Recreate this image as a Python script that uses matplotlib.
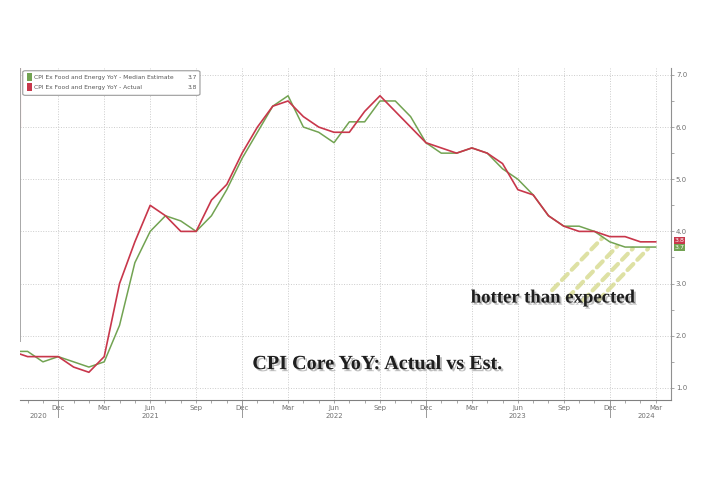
import numpy as np
import matplotlib
matplotlib.use("Agg")
import matplotlib.pyplot as plt
import matplotlib.patheffects as pe
from matplotlib.patches import FancyBboxPatch, Rectangle

# month index: 0 = Dec 2020, data runs Sep 2020 .. Mar 2024
months = np.arange(-3, 40)

actual = [1.7, 1.6, 1.6, 1.6,
          1.4, 1.3, 1.6, 3.0, 3.8, 4.5, 4.3, 4.0, 4.0, 4.6, 4.9, 5.5,
          6.0, 6.4, 6.5, 6.2, 6.0, 5.9, 5.9, 6.3, 6.6, 6.3, 6.0, 5.7,
          5.6, 5.5, 5.6, 5.5, 5.3, 4.8, 4.7, 4.3, 4.1, 4.0, 4.0, 3.9,
          3.9, 3.8, 3.8]
estimate = [1.7, 1.7, 1.5, 1.6,
            1.5, 1.4, 1.5, 2.2, 3.4, 4.0, 4.3, 4.2, 4.0, 4.3, 4.8, 5.4,
            5.9, 6.4, 6.6, 6.0, 5.9, 5.7, 6.1, 6.1, 6.5, 6.5, 6.2, 5.7,
            5.5, 5.5, 5.6, 5.5, 5.2, 5.0, 4.7, 4.3, 4.1, 4.1, 4.0, 3.8,
            3.7, 3.7, 3.7]

tick_pos = np.arange(0, 40, 3)
tick_labels = ["Dec", "Mar", "Jun", "Sep"] * 3 + ["Dec", "Mar"]
year_labels = ["2020", "2021", "2022", "2023", "2024"]
year_pos = [-1.3, 6, 18, 30, 38.4]
y_ticks = [1.0, 2.0, 3.0, 4.0, 5.0, 6.0, 7.0]

red = "#c8374b"
green = "#72a352"
grey = "#707070"

fig = plt.figure(figsize=(7.04, 4.83), dpi=100)
ax = fig.add_axes([0.0277, 0.172, 0.9255, 0.687])

ax.plot(months, estimate, color=green, lw=1.1, zorder=3)
ax.plot(months, actual, color=red, lw=1.2, zorder=4)

ax.set_xlim(-2.53, 40)
ax.set_ylim(0.77, 7.13)

# axes styling
ax.spines["top"].set_visible(False)
ax.spines["bottom"].set_color("#808080")
ax.spines["right"].set_color("#909090")
ax.spines["left"].set_color("#a8a8a8")
ax.spines["left"].set_linewidth(0.7)
ax.spines["left"].set_bounds(1.9, 7.13)
ax.axvline(-2.53, ymin=(6.0 - 0.77) / 6.36, ymax=1, color="#e0707c", lw=0.8)

ax.yaxis.tick_right()
ax.set_yticks(y_ticks)
ax.set_yticklabels([f"{v:.1f}" for v in y_ticks])
ax.set_yticks(np.arange(1.5, 7.0, 1.0), minor=True)
ax.tick_params(axis="y", which="both", direction="out", length=2, width=0.6,
               colors="#999999", labelcolor=grey, labelsize=5, pad=1.5)

ax.set_xticks(tick_pos)
ax.set_xticklabels(tick_labels)
ax.set_xticks(np.arange(-2, 40), minor=True)
ax.tick_params(axis="x", which="both", direction="out", length=2, width=0.6,
               colors="#999999", labelcolor=grey, labelsize=5, pad=1.5)

ax.grid(True, which="major", color="#cccccc", linestyle=(0, (1, 1.6)), lw=0.7)

# year separators
for d in [0, 12, 24, 36]:
    ax.axvline(d, ymin=-0.052, ymax=0, color="#999999", lw=0.7, clip_on=False)
for lab, p in zip(year_labels, year_pos):
    ax.text(p, -0.04, lab, transform=ax.get_xaxis_transform(), ha="center",
            va="top", fontsize=5, color=grey)

# legend box
leg = FancyBboxPatch((0.005, 0.918), 0.272, 0.074, transform=ax.transAxes,
                     boxstyle="round,pad=0,rounding_size=0.004",
                     facecolor="white", edgecolor="#9a9a9a", lw=0.8, zorder=6)
ax.add_patch(leg)
legend_rows = [("CPI Ex Food and Energy YoY - Median Estimate", estimate[-1], green),
               ("CPI Ex Food and Energy YoY - Actual", actual[-1], red)]
for i, (lab, val, col) in enumerate(legend_rows):
    yy = 0.973 - i * 0.03
    ax.add_patch(Rectangle((0.011, yy - 0.011), 0.0075, 0.022, transform=ax.transAxes,
                           facecolor=col, edgecolor="none", zorder=7))
    ax.text(0.022, yy, lab, transform=ax.transAxes, fontsize=4.3, color="#555555",
            va="center", ha="left", zorder=7)
    ax.text(0.272, yy, f"{val:.1f}", transform=ax.transAxes, fontsize=4.3,
            color="#555555", va="center", ha="right", zorder=7)

# last value tags
for val, col, yv in [(actual[-1], red, 3.83), (estimate[-1], green, 3.69)]:
    ax.annotate(f"{val:.1f}", xy=(1.0, yv), xycoords=("axes fraction", "data"),
                xytext=(2.5, 0), textcoords="offset points", fontsize=4.5,
                color="white", va="center", ha="left", annotation_clip=False,
                bbox=dict(boxstyle="square,pad=0.15", facecolor=col, edgecolor="none"))

# "hotter than expected" dashed pointers
for m in [35, 36, 37, 38]:
    tip = (m + 0.5, np.interp(m + 0.5, months, estimate) - 0.03)
    ax.annotate("", xy=tip, xytext=(-50, -52), textcoords="offset pixels",
                arrowprops=dict(arrowstyle="-", color="#d6da8e", lw=3.0, alpha=0.8,
                                linestyle=(0, (2.0, 1.4)), shrinkA=0, shrinkB=0),
                zorder=2)

shadow = [pe.SimplePatchShadow(offset=(1.5, -1.5), shadow_rgbFace="#888888", alpha=0.55),
          pe.Normal()]
ax.text(0.819, 0.307, "hotter than expected", transform=ax.transAxes,
        family="Liberation Serif", fontweight="bold", fontsize=13.5,
        color="#1e1e1e", ha="center", va="center", path_effects=shadow, zorder=8)
ax.text(0.549, 0.108, "CPI Core YoY: Actual vs Est.", transform=ax.transAxes,
        family="Liberation Serif", fontweight="bold", fontsize=14.5,
        color="#1e1e1e", ha="center", va="center", path_effects=shadow, zorder=8)

fig.savefig("out.png", dpi=100, facecolor="white")
